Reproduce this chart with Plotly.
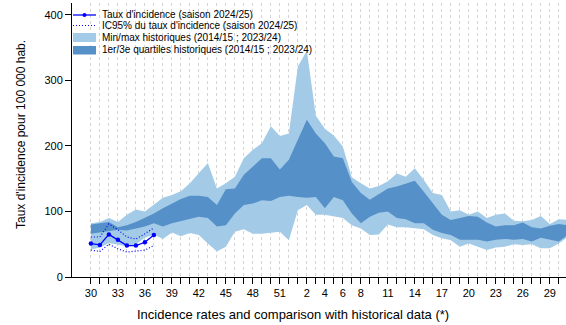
import plotly.graph_objects as go

# ---------------- data ----------------
weeks = list(range(30, 53)) + list(range(1, 32))          # 54 weekly positions
tick_labels = {30, 33, 36, 39, 42, 45, 48, 51, 2, 4, 6, 8, 11, 14, 17, 20, 23, 26, 29}

hist_min = [42, 45, 52, 50, 47, 50, 60, 65, 58, 68, 62, 67, 64, 51, 39, 46, 69, 73, 66, 66,
            67, 69, 56, 102, 110, 95, 95, 92, 90, 79, 74, 64, 65, 80, 76, 76, 74, 73, 64, 59,
            56, 46, 51, 46, 41, 45, 46, 50, 49, 50, 44, 44, 51, 61]
hist_max = [82, 84, 90, 84, 95, 103, 100, 110, 121, 125, 131, 143, 158, 174, 135, 143, 153, 181, 194, 204,
            230, 215, 219, 321, 345, 246, 226, 216, 199, 152, 143, 135, 139, 146, 158, 153, 166, 148, 128, 125,
            100, 102, 95, 100, 90, 95, 97, 86, 85, 87, 93, 81, 88, 87]
hist_q1 = [66, 68, 70, 72, 71, 74, 77, 82, 77, 82, 85, 89, 92, 90, 77, 79, 97, 110, 112, 117,
           116, 122, 124, 122, 121, 122, 105, 122, 117, 97, 82, 92, 98, 100, 90, 88, 82, 82, 72, 67,
           64, 57, 57, 57, 54, 57, 58, 57, 58, 54, 60, 57, 54, 64]
hist_q3 = [80, 82, 84, 76, 79, 84, 90, 97, 105, 112, 119, 124, 124, 122, 110, 134, 135, 156, 168, 181,
           181, 164, 179, 210, 240, 219, 204, 184, 181, 145, 128, 118, 127, 135, 138, 143, 147, 130, 112, 95,
           87, 90, 93, 92, 83, 77, 79, 79, 83, 76, 74, 78, 81, 79]

season_weeks = [30, 31, 32, 33, 34, 35, 36, 37]
taux = [51, 49, 65, 57, 48, 48, 53, 64]
ic_hi = [61, 61, 81, 72, 61, 58, 66, 75]
ic_lo = [41, 39, 50, 43, 38, 39, 41, 48]

y_ticks = [0, 100, 200, 300, 400]

leg_labels = ["Taux d'incidence (saison 2024/25)",
              "IC95% du taux d'incidence (saison 2024/25)",
              "Min/max historiques (2014/15 ; 2023/24)",
              "1er/3e quartiles historiques (2014/15 ; 2023/24)"]

# ---------------- styles ----------------
LIGHT = "#a3cbe7"
DARK = "#5590c8"
BLUE = "#0000ff"
FONT = "Liberation Sans, Arial, sans-serif"
DOT = "1px,2px"

x = list(range(len(weeks)))
xs = x[:len(season_weeks)]

fig = go.Figure()
fig.add_trace(go.Scatter(x=x, y=hist_min, mode="lines", line=dict(width=0, color=LIGHT),
                         showlegend=False, hoverinfo="skip"))
fig.add_trace(go.Scatter(x=x, y=hist_max, mode="lines", line=dict(width=0, color=LIGHT),
                         fill="tonexty", fillcolor=LIGHT, showlegend=False))
fig.add_trace(go.Scatter(x=x, y=hist_q1, mode="lines", line=dict(width=0, color=DARK),
                         showlegend=False, hoverinfo="skip"))
fig.add_trace(go.Scatter(x=x, y=hist_q3, mode="lines", line=dict(width=0, color=DARK),
                         fill="tonexty", fillcolor=DARK, showlegend=False))
fig.add_trace(go.Scatter(x=xs, y=ic_hi, mode="lines", line=dict(width=1.2, color=BLUE, dash=DOT),
                         showlegend=False))
fig.add_trace(go.Scatter(x=xs, y=ic_lo, mode="lines", line=dict(width=1.2, color=BLUE, dash=DOT),
                         showlegend=False))
fig.add_trace(go.Scatter(x=xs, y=taux, mode="lines+markers", line=dict(width=1.3, color=BLUE),
                         marker=dict(size=4.5, color=BLUE), showlegend=False))

# ---------------- layout ----------------
L, R, T, B = 72, 566, 3, 277
W, H = R - L, B - T


def px(v):
    return (v - L) / W


def py(v):
    return (B - v) / H


ticktext = [str(w) if w in tick_labels else "" for w in weeks]
# second occurrence of 30/31 should not be labelled
ticktext = [t if i < 52 else "" for i, t in enumerate(ticktext)]

fig.update_layout(
    width=566, height=325, autosize=False,
    margin=dict(l=L, r=566 - R, t=T, b=325 - B),
    plot_bgcolor="white", paper_bgcolor="white",
    font=dict(family=FONT, size=11, color="black"),
    showlegend=False,
    xaxis=dict(range=[-2.1, 52.8], tickmode="array", tickvals=x, ticktext=ticktext,
               ticks="outside", ticklen=6, tickcolor="black", showline=True, linecolor="black",
               linewidth=1, showgrid=True, gridcolor="#d4d4d4", griddash="dot", gridwidth=1,
               zeroline=False, tickfont=dict(size=11)),
    yaxis=dict(range=[0, 418], tickmode="array", tickvals=y_ticks, ticks="outside", ticklen=6,
               tickcolor="black", showline=True, linecolor="black", linewidth=1,
               showgrid=False, zeroline=False, tickfont=dict(size=11)),
)

# axis titles
fig.add_annotation(text="Incidence rates and comparison with historical data (*)",
                   xref="paper", yref="paper", x=px(292.5), y=py(314), showarrow=False,
                   xanchor="center", yanchor="middle", font=dict(size=13))
fig.add_annotation(text="Taux d'incidence pour 100 000 hab.", textangle=-90,
                   xref="paper", yref="paper", x=px(21), y=py(135), showarrow=False,
                   xanchor="center", yanchor="middle", font=dict(size=12))

# custom legend (R-style)
rows = [15, 25.5, 37.5, 50]
fig.add_shape(type="line", xref="paper", yref="paper", x0=px(73), x1=px(96), y0=py(rows[0]), y1=py(rows[0]),
              line=dict(color=BLUE, width=1.3))
fig.add_shape(type="circle", xref="paper", yref="paper", x0=px(82.5), x1=px(86.5),
              y0=py(rows[0] + 2), y1=py(rows[0] - 2), fillcolor=BLUE, line=dict(color=BLUE, width=0))
fig.add_shape(type="line", xref="paper", yref="paper", x0=px(73), x1=px(96), y0=py(rows[1]), y1=py(rows[1]),
              line=dict(color=BLUE, width=1.2, dash=DOT))
fig.add_shape(type="rect", xref="paper", yref="paper", x0=px(73), x1=px(96), y0=py(42), y1=py(33),
              fillcolor=LIGHT, line=dict(width=0))
fig.add_shape(type="rect", xref="paper", yref="paper", x0=px(73), x1=px(96), y0=py(54.5), y1=py(46),
              fillcolor=DARK, line=dict(width=0))
for r, lab in zip(rows, leg_labels):
    fig.add_annotation(text=lab, xref="paper", yref="paper", x=px(100), y=py(r), showarrow=False,
                       xanchor="left", yanchor="middle", font=dict(size=10))

fig.write_html("out.html")
